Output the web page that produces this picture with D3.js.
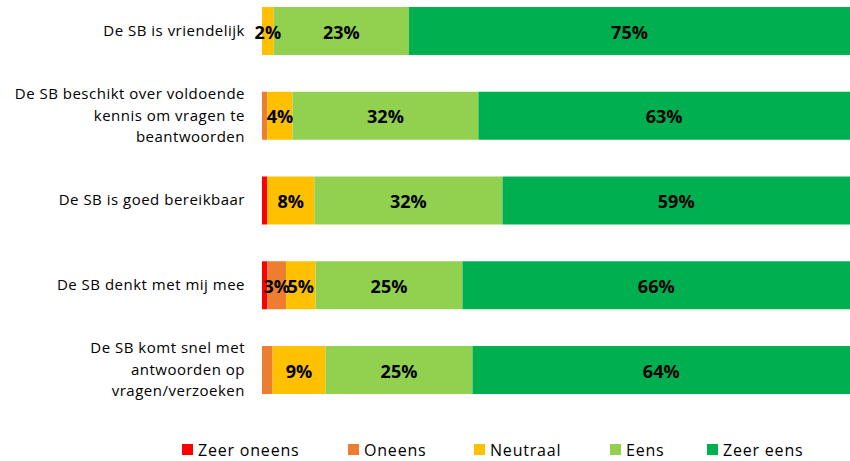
<!DOCTYPE html>
<html><head><meta charset="utf-8">
<script src="https://cdn.jsdelivr.net/npm/d3@7"></script>
<style>body{margin:0;background:#fff;}svg{display:block;}</style>
</head><body>
<svg id="chart" width="850" height="461"></svg>
<script>
const categories = [
  ["De SB is vriendelijk"],
  ["De SB beschikt over voldoende", "kennis om vragen te", "beantwoorden"],
  ["De SB is goed bereikbaar"],
  ["De SB denkt met mij mee"],
  ["De SB komt snel met", "antwoorden op", "vragen/verzoeken"]
];
const seriesNames = ["Zeer oneens", "Oneens", "Neutraal", "Eens", "Zeer eens"];
const zeerOneens = [0, 0, 0.9, 0.9, 0];
const oneens     = [0, 0.9, 0, 3.2, 1.8];
const neutraal   = [2, 4.3, 8, 5, 9];
const eens       = [23, 31.6, 32, 25, 25];
const zeerEens   = [75, 63.2, 59.1, 65.9, 64.2];
const colors = ["#FF0000", "#ED7D31", "#FFC000", "#92D050", "#00B050"];

const seriesValues = [zeerOneens, oneens, neutraal, eens, zeerEens];
const rows = categories.map((c, i) => {
  const o = {idx: i};
  seriesNames.forEach((s, j) => o[s] = seriesValues[j][i]);
  return o;
});

const svg = d3.select("#chart");
const x = d3.scaleLinear().domain([0, 100]).range([262, 850]);
const y = d3.scaleBand().domain(d3.range(categories.length))
  .range([-11.4, 412.4]).paddingInner(0.434).paddingOuter(0.217);

const stack = d3.stack().keys(seriesNames)(rows);

const g = svg.append("g");
stack.forEach((layer, j) => {
  g.selectAll(null).data(layer).enter().append("rect")
    .attr("x", d => x(d[0]))
    .attr("y", (d, i) => y(i))
    .attr("width", d => Math.max(0, x(d[1]) - x(d[0])))
    .attr("height", y.bandwidth())
    .attr("fill", colors[j]);
});
stack.forEach((layer, j) => {
  g.selectAll(null).data(layer.filter(d => (d[1] - d[0]) >= 2)).enter().append("text")
    .attr("x", d => (x(d[0]) + x(d[1])) / 2)
    .attr("y", d => y(d.data.idx) + y.bandwidth() / 2)
    .attr("dy", "0.42em")
    .attr("text-anchor", "middle")
    .attr("font-family", "'Open Sans', sans-serif")
    .attr("font-weight", "bold")
    .attr("font-size", "18px")
    .attr("fill", "#000")
    .text(d => Math.round(d[1] - d[0]) + "%");
});

// category labels
categories.forEach((lines, i) => {
  const cy = y(i) + y.bandwidth() / 2;
  const lh = 21.5;
  const t = svg.append("text")
    .attr("text-anchor", "end")
    .attr("font-family", "'Open Sans', sans-serif")
    .attr("font-size", "15px")
    .attr("letter-spacing", "0.5px")
    .attr("fill", "#000");
  lines.forEach((l, k) => {
    t.append("tspan").attr("x", 245)
      .attr("y", cy + (k - (lines.length - 1) / 2) * lh)
      .attr("dy", "0.32em").text(l);
  });
});

// legend
const legendX = [182, 348, 474, 610, 707];
const lg = svg.append("g");
seriesNames.forEach((s, j) => {
  lg.append("rect").attr("x", legendX[j]).attr("y", 444).attr("width", 11).attr("height", 11).attr("fill", colors[j]);
  lg.append("text").attr("x", legendX[j] + 16).attr("y", 456)
    .attr("font-family", "'Open Sans', sans-serif").attr("font-size", "16px")
    .attr("letter-spacing", "0.8px").attr("fill", "#000").text(s);
});
</script>
</body></html>
